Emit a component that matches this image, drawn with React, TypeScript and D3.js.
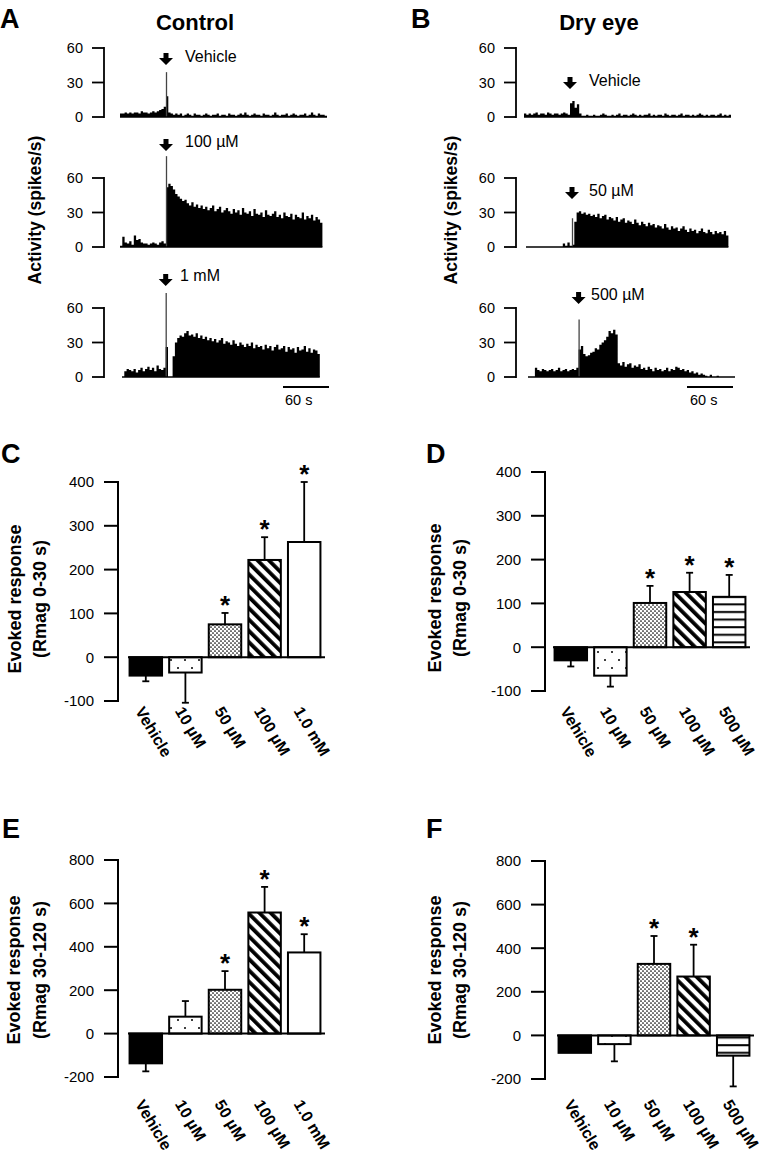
import React from 'react';
import * as d3 from 'd3';

const FONT = "'Liberation Sans', Arial, Helvetica, sans-serif";

// ---------- Trace data (spikes/s, 3-s bins) ----------
const BIN_S = 3;
const ctrlVehPre = [3,3,4,3,4,3,4,4,3,5,4,4,3,4,5,4,5,6,7,9];
const ctrlVehPost = [18,4,3,2,3,2,3,1,2,3,2,1,3,2,2,1,2,3,2,1,2,2,3,1,2,2,1,3,2,2,1,2,3,2,4,2,1,2,3,2,2,1,3,2,2,1,2,4,2,1,2,2,3,1,2,3,2,1,2,2,3,1,2,4,2,1,3,2,2,1];
const ctrlVehSpike = 39;
const ctrl100Pre = [1,9,4,3,5,2,10,6,7,4,3,3,2,3,4,3,2,4,5,3];
const ctrl100Post = [52,55,53,50,46,44,42,40,41,38,36,39,35,37,34,36,33,35,32,34,36,31,33,35,30,32,34,31,29,33,30,32,28,34,30,29,31,27,33,29,28,30,26,32,28,27,29,31,26,28,25,30,27,26,29,24,28,26,25,30,24,27,25,28,23,26,24,21];
const ctrl100Spike = 79;
const ctrl1mPre = [0,5,7,6,5,7,4,6,8,5,7,9,6,8,5,10,7,6,8];
const ctrl1mPost = [26,0,0,18,30,34,36,35,38,40,36,37,35,38,34,36,33,35,32,34,31,33,30,32,34,29,31,30,28,32,29,27,30,28,26,29,27,30,25,28,26,27,24,28,25,27,23,26,28,24,25,27,22,26,24,25,21,26,23,24,27,22,25,21,24,23,20];
const ctrl1mSpike = 73;
const dryVehPre = [3,2,3,2,3,4,2,3,3,2,4,3,2,3,3,2,3,4,3,2];
const dryVehPost = [12,14,8,11,3,1,1,2,1,1,2,1,1,2,3,2,1,1,2,1,2,3,1,2,2,1,2,3,2,1,2,1,2,2,3,1,2,1,2,2,1,3,2,1,2,2,1,2,3,1,2,2,1,2,1,2,3,2,1,2,1,2,2,1,2,3,1,2,1,2];
const dryVehSpike = 0;
const dry50Pre = [0,0,0,0,0,0,0,0,0,0,0,0,0,0,0,0,3,1,4,1];
const dry50Post = [2,22,30,31,29,30,28,29,27,28,26,29,25,27,28,24,26,25,23,26,22,24,25,21,23,22,20,24,21,19,22,20,18,21,19,20,17,19,18,16,20,17,15,18,16,17,14,16,18,15,13,16,14,15,12,14,16,13,12,15,13,11,14,12,13,11,14,10];
const dry50Spike = 25;
const dry500Pre = [0,0,0,8,6,5,7,6,5,6,7,5,6,8,5,6,7,5,6,7,6,8];
const dry500Post = [24,27,20,18,19,21,22,25,24,28,30,32,35,40,38,41,37,12,10,13,9,11,12,8,10,9,11,7,8,6,9,7,5,8,6,7,5,6,8,5,7,6,9,8,6,7,5,6,4,5,3,4,2,3,2,1,0,2,0,0,1,0,0,0,0,0,0,0];
const dry500Spike = 50;
const traceTicks = [0, 30, 60];
const traceLabels = ['Vehicle', '100 µM', '1 mM', 'Vehicle', '50 µM', '500 µM'];

// ---------- Bar data ----------
const ctrlCategories = ['Vehicle', '10 µM', '50 µM', '100 µM', '1.0 mM'];
const dryCategories = ['Vehicle', '10 µM', '50 µM', '100 µM', '500 µM'];
const ctrlPatterns = ['solid', 'sparse', 'dense', 'diag', 'white'];
const dryPatterns = ['solid', 'sparse', 'dense', 'diag', 'hlines'];

const cMeans = [-42, -35, 75, 222, 263];
const cSem = [13, 69, 26, 52, 137];
const cStars = [false, false, true, true, true];
const dMeans = [-30, -65, 101, 126, 115];
const dSem = [14, 25, 39, 44, 50];
const dStars = [false, false, true, true, true];
const eMeans = [-137, 78, 202, 558, 374];
const eSem = [37, 72, 86, 118, 84];
const eStars = [false, false, true, true, true];
const fMeans = [-80, -40, 328, 270, -93];
const fSem = [0, 79, 128, 146, 141];
const fStars = [false, false, true, true, false];

const ticks0to30 = [-100, 0, 100, 200, 300, 400];
const ticks30to120 = [-200, 0, 200, 400, 600, 800];

const tSec = d3.scaleLinear().domain([0, 60]).range([0, 46]);

function Arrow({ cx, y }: { cx: number; y: number }) {
  const p = d3.path();
  p.moveTo(cx - 2.5, y);
  p.lineTo(cx + 2.5, y);
  p.lineTo(cx + 2.5, y + 5);
  p.lineTo(cx + 7, y + 5);
  p.lineTo(cx, y + 12);
  p.lineTo(cx - 7, y + 5);
  p.lineTo(cx - 2.5, y + 5);
  p.closePath();
  return <path d={p.toString()} fill="#000" />;
}

type TraceLayout = { x0: number; base: number; axisX: number; arrowY: number; labelX: number; labelY: number };

function Trace({ pre, post, spike, label, lay }: { pre: number[]; post: number[]; spike: number; label: string; lay: TraceLayout }) {
  const data = pre.concat(post);
  const x = (i: number) => lay.x0 + tSec(i * BIN_S);
  const y = d3.scaleLinear().domain([0, 60]).range([lay.base, lay.base - 69]);
  const pts: [number, number][] = data.map((v, i) => [i, v]);
  pts.push([data.length, data[data.length - 1]]);
  const area = d3.area<[number, number]>()
    .x((d) => x(d[0]))
    .y0(lay.base)
    .y1((d) => y(d[1]))
    .curve(d3.curveStepAfter);
  const stimX = x(pre.length);
  return (
    <g>
      <line x1={lay.axisX} x2={lay.axisX} y1={y(0) + 1} y2={y(60) - 1} stroke="#000" strokeWidth={1.8} />
      {traceTicks.map((t) => (
        <g key={t}>
          <line x1={lay.axisX - 12} x2={lay.axisX} y1={y(t)} y2={y(t)} stroke="#000" strokeWidth={1.8} />
          <text x={lay.axisX - 21} y={y(t)} dy="0.36em" textAnchor="end" fontSize={14.5} fontFamily={FONT}>{t}</text>
        </g>
      ))}
      <path d={area(pts) || ''} fill="#000" />
      {spike > 0 && (
        <line x1={stimX + 0.5} x2={stimX + 0.5} y1={lay.base} y2={y(spike)} stroke="#444" strokeWidth={1.3} />
      )}
      <line x1={x(0)} x2={x(data.length)} y1={lay.base} y2={lay.base} stroke="#000" strokeWidth={1.6} />
      <Arrow cx={stimX} y={lay.arrowY} />
      <text x={lay.labelX} y={lay.labelY} fontSize={16} fontFamily={FONT}>{label}</text>
    </g>
  );
}

type BarLayout = {
  axisX: number; yRange: [number, number]; band: [number, number]; labelY: number;
  titleX: [number, number]; titleY: number;
};

function BarPanel({ cats, means, sems, stars, pats, ticks, title2, lay }: {
  cats: string[]; means: number[]; sems: number[]; stars: boolean[]; pats: string[]; ticks: number[]; title2: string; lay: BarLayout;
}) {
  const y = d3.scaleLinear().domain([ticks[0], ticks[ticks.length - 1]]).range(lay.yRange);
  const x = d3.scaleBand<string>().domain(cats).range(lay.band).paddingInner(0.18).paddingOuter(0.09);
  const bw = x.bandwidth();
  const fillFor = (p: string) => (p === 'solid' ? '#000' : p === 'white' ? '#fff' : `url(#pat-${p})`);
  return (
    <g>
      {/* y axis */}
      <line x1={lay.axisX} x2={lay.axisX} y1={y(ticks[0]) + 1} y2={y(ticks[ticks.length - 1]) - 1} stroke="#000" strokeWidth={2} />
      {ticks.map((t) => (
        <g key={t}>
          <line x1={lay.axisX - 14} x2={lay.axisX} y1={y(t)} y2={y(t)} stroke="#000" strokeWidth={2} />
          <text x={lay.axisX - 24} y={y(t)} dy="0.36em" textAnchor="end" fontSize={15} fontFamily={FONT}>{t}</text>
        </g>
      ))}
      {/* bars */}
      {cats.map((c, i) => {
        const m = means[i];
        const x0 = x(c)!;
        const cx = x0 + bw / 2;
        const top = Math.min(y(m), y(0));
        const h = Math.abs(y(m) - y(0));
        const errEnd = m >= 0 ? m + sems[i] : m - sems[i];
        return (
          <g key={c}>
            {sems[i] > 0 && (
              <g>
                <line x1={cx} x2={cx} y1={y(m)} y2={y(errEnd)} stroke="#000" strokeWidth={1.8} />
                <line x1={cx - 3.5} x2={cx + 3.5} y1={y(errEnd)} y2={y(errEnd)} stroke="#000" strokeWidth={1.8} />
              </g>
            )}
            <rect x={x0} y={top} width={bw} height={h} fill={fillFor(pats[i])} stroke="#000" strokeWidth={2} />
            {stars[i] && (
              <text x={cx} y={y(errEnd) + 1} textAnchor="middle" fontSize={26} fontWeight="bold" fontFamily={FONT}>*</text>
            )}
            <text
              transform={`translate(${cx - 11},${lay.labelY}) rotate(59)`}
              fontSize={16}
              fontWeight="bold"
              fontFamily={FONT}
            >{c}</text>
          </g>
        );
      })}
      <line x1={lay.band[0] + 2} x2={lay.band[1] + 1} y1={y(0)} y2={y(0)} stroke="#000" strokeWidth={2} />
      {/* title */}
      <text transform={`translate(${lay.titleX[0]},${lay.titleY}) rotate(-90)`} textAnchor="middle" fontSize={18} fontWeight="bold" fontFamily={FONT}>Evoked response</text>
      <text transform={`translate(${lay.titleX[1]},${lay.titleY}) rotate(-90)`} textAnchor="middle" fontSize={18} fontWeight="bold" fontFamily={FONT}>{title2}</text>
    </g>
  );
}

export default function App() {
  const panelLetter = (s: string, x: number, y: number) => (
    <text x={x} y={y} fontSize={27} fontWeight="bold" fontFamily={FONT}>{s}</text>
  );
  return (
    <svg width={762} height={1155} style={{ position: 'absolute', left: 0, top: 0, background: '#fff' }}>
      <defs>
        <pattern id="pat-sparse" patternUnits="userSpaceOnUse" width={14} height={16}>
          <rect width={14} height={16} fill="#fff" />
          <circle cx={3} cy={4} r={1} fill="#000" />
          <circle cx={10} cy={12} r={1} fill="#000" />
        </pattern>
        <pattern id="pat-dense" patternUnits="userSpaceOnUse" width={4} height={4}>
          <rect width={4} height={4} fill="#fff" />
          <circle cx={1} cy={1} r={0.85} fill="#000" />
          <circle cx={3} cy={3} r={0.85} fill="#000" />
        </pattern>
        <pattern id="pat-diag" patternUnits="userSpaceOnUse" width={8} height={8} patternTransform="rotate(-45)">
          <rect width={8} height={8} fill="#fff" />
          <rect x={0} y={0} width={3.8} height={8} fill="#000" />
        </pattern>
        <pattern id="pat-hlines" patternUnits="userSpaceOnUse" width={8} height={7.6}>
          <rect width={8} height={7.6} fill="#fff" />
          <rect x={0} y={3} width={8} height={2} fill="#000" />
        </pattern>
      </defs>

      {/* Panel A */}
      {panelLetter('A', 0, 28)}
      <text x={195} y={30} textAnchor="middle" fontSize={22} fontWeight="bold" fontFamily={FONT}>Control</text>
      <text transform="translate(41,210) rotate(-90)" textAnchor="middle" fontSize={17.5} fontWeight="bold" fontFamily={FONT}>Activity (spikes/s)</text>
      <Trace pre={ctrlVehPre} post={ctrlVehPost} spike={ctrlVehSpike} label={traceLabels[0]}
        lay={{ x0: 120, base: 117, axisX: 104, arrowY: 53, labelX: 185, labelY: 62 }} />
      <Trace pre={ctrl100Pre} post={ctrl100Post} spike={ctrl100Spike} label={traceLabels[1]}
        lay={{ x0: 120, base: 247, axisX: 104, arrowY: 139, labelX: 185, labelY: 147 }} />
      <Trace pre={ctrl1mPre} post={ctrl1mPost} spike={ctrl1mSpike} label={traceLabels[2]}
        lay={{ x0: 122, base: 377, axisX: 104, arrowY: 274, labelX: 180, labelY: 281 }} />
      <line x1={283} x2={283 + tSec(60)} y1={387} y2={387} stroke="#000" strokeWidth={2} />
      <text x={285} y={405} fontSize={14.5} fontFamily={FONT}>60 s</text>

      {/* Panel B */}
      {panelLetter('B', 411, 28)}
      <text x={599} y={30} textAnchor="middle" fontSize={22} fontWeight="bold" fontFamily={FONT}>Dry eye</text>
      <text transform="translate(457,210) rotate(-90)" textAnchor="middle" fontSize={17.5} fontWeight="bold" fontFamily={FONT}>Activity (spikes/s)</text>
      <Trace pre={dryVehPre} post={dryVehPost} spike={dryVehSpike} label={traceLabels[3]}
        lay={{ x0: 524, base: 117, axisX: 516, arrowY: 77, labelX: 589, labelY: 86 }} />
      <Trace pre={dry50Pre} post={dry50Post} spike={dry50Spike} label={traceLabels[4]}
        lay={{ x0: 526, base: 247, axisX: 516, arrowY: 187, labelX: 589, labelY: 196 }} />
      <Trace pre={dry500Pre} post={dry500Post} spike={dry500Spike} label={traceLabels[5]}
        lay={{ x0: 528, base: 377, axisX: 516, arrowY: 292, labelX: 591, labelY: 300 }} />
      <line x1={687} x2={687 + tSec(60)} y1={387} y2={387} stroke="#000" strokeWidth={2} />
      <text x={690} y={405} fontSize={14.5} fontFamily={FONT}>60 s</text>

      {/* Panel C */}
      {panelLetter('C', 1, 463)}
      <BarPanel cats={ctrlCategories} means={cMeans} sems={cSem} stars={cStars} pats={ctrlPatterns}
        ticks={ticks0to30} title2="(Rmag 0-30 s)"
        lay={{ axisX: 118, yRange: [701, 482], band: [126, 324], labelY: 711, titleX: [21, 46], titleY: 599 }} />

      {/* Panel D */}
      {panelLetter('D', 426, 463)}
      <BarPanel cats={dryCategories} means={dMeans} sems={dSem} stars={dStars} pats={dryPatterns}
        ticks={ticks0to30} title2="(Rmag 0-30 s)"
        lay={{ axisX: 545, yRange: [691, 472], band: [551, 749], labelY: 711, titleX: [441, 466], titleY: 598 }} />

      {/* Panel E */}
      {panelLetter('E', 2, 838)}
      <BarPanel cats={ctrlCategories} means={eMeans} sems={eSem} stars={eStars} pats={ctrlPatterns}
        ticks={ticks30to120} title2="(Rmag 30-120 s)"
        lay={{ axisX: 118, yRange: [1077, 860], band: [126, 324], labelY: 1104, titleX: [20, 46], titleY: 970 }} />

      {/* Panel F */}
      {panelLetter('F', 426, 838)}
      <BarPanel cats={dryCategories} means={fMeans} sems={fSem} stars={fStars} pats={dryPatterns}
        ticks={ticks30to120} title2="(Rmag 30-120 s)"
        lay={{ axisX: 545, yRange: [1079, 861], band: [555, 753], labelY: 1104, titleX: [441, 466], titleY: 970 }} />
    </svg>
  );
}
